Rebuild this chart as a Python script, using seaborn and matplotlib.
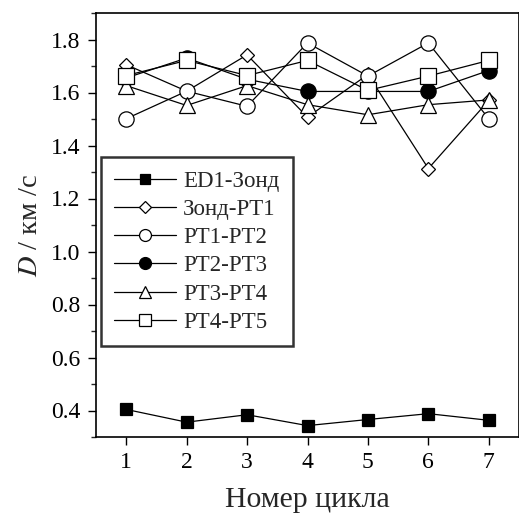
import matplotlib
matplotlib.use("Agg")
import matplotlib.pyplot as plt
import seaborn as sns
import pandas as pd
from matplotlib import font_manager as fm
from matplotlib.ticker import MultipleLocator
from matplotlib.lines import Line2D

for f in fm.findSystemFonts():
    if "Liberation" in f or "liberation" in f:
        try:
            fm.fontManager.addfont(f)
        except Exception:
            pass

sns.set_theme(style="ticks")
plt.rcParams['font.family'] = ['Liberation Serif', 'DejaVu Serif']
plt.rcParams['mathtext.fontset'] = 'stix'

cycles = [1, 2, 3, 4, 5, 6, 7]
ed1_zond = [0.404, 0.356, 0.384, 0.343, 0.366, 0.388, 0.363]
zond_pt1 = [1.705, 1.605, 1.742, 1.507, 1.668, 1.313, 1.570]
pt1_pt2 = [1.501, 1.605, 1.548, 1.787, 1.662, 1.787, 1.501]
pt2_pt3 = [1.655, 1.730, 1.650, 1.604, 1.604, 1.604, 1.683]
pt3_pt4 = [1.626, 1.551, 1.626, 1.554, 1.516, 1.554, 1.572]
pt4_pt5 = [1.664, 1.721, 1.664, 1.721, 1.608, 1.662, 1.721]

labels = ["ED1-Зонд", "Зонд-PT1", "PT1-PT2", "PT2-PT3", "PT3-PT4", "PT4-PT5"]
series = [ed1_zond, zond_pt1, pt1_pt2, pt2_pt3, pt3_pt4, pt4_pt5]
markers = ["s", "D", "o", "o", "^", "s"]
faces = ["black", "white", "white", "black", "white", "white"]
msizes = [8.5, 8.5, 11, 11, 11, 11]

fig = plt.figure(figsize=(5.19, 5.17), dpi=100)
ax = fig.add_axes([96/519, 1-437/517, 423/519, 424/517])

handles = []
for lab, vals, m, fc, ms in zip(labels, series, markers, faces, msizes):
    df = pd.DataFrame({"cycle": cycles, "v": vals})
    size = ms * 0.8 if m == "D" else ms
    sns.lineplot(data=df, x="cycle", y="v", ax=ax, color="black", linewidth=0.9,
                 marker=m, markersize=size, markerfacecolor=fc,
                 markeredgecolor="black", markeredgewidth=0.9, legend=False)
    lsize = size * (0.95 if m == "D" else 0.78)
    handles.append(Line2D([], [], color="black", linewidth=0.9, marker=m,
                          markersize=lsize,
                          markerfacecolor=fc, markeredgecolor="black",
                          markeredgewidth=0.9, label=lab))

ax.set_xlim(0.5, 7.5)
ax.set_ylim(0.3, 1.9)
ax.set_xticks(cycles)
ax.yaxis.set_minor_locator(MultipleLocator(0.1))
ax.set_yticks([0.4, 0.6, 0.8, 1.0, 1.2, 1.4, 1.6, 1.8])
ax.set_yticklabels(["0.4", "0.6", "0.8", "1.0", "1.2", "1.4", "1.6", "1.8"])
ax.tick_params(axis="both", which="major", direction="out", length=6, width=1,
               labelsize=17, colors="black", pad=5)
ax.tick_params(axis="y", which="minor", direction="out", length=3.5, width=1)
for s in ax.spines.values():
    s.set_linewidth(1.2)
    s.set_color("black")
ax.set_xlabel("Номер цикла", fontsize=21.5, labelpad=10)
ax.set_ylabel("$D$ / км /с", fontsize=20.5, labelpad=6)

leg = ax.legend(handles=handles, loc="upper left", bbox_to_anchor=(0.011, 0.66),
                fontsize=16.5, frameon=True, fancybox=False, edgecolor="black",
                handlelength=2.7, handletextpad=0.3, labelspacing=0.31,
                borderpad=0.6, borderaxespad=0)
leg.get_frame().set_linewidth(1.8)

fig.savefig("out.png", dpi=100)
